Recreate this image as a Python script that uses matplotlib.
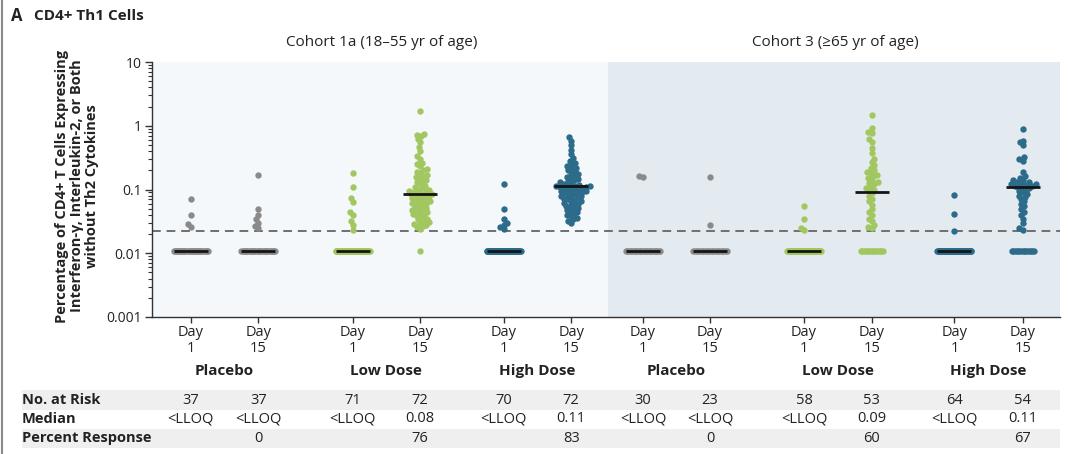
import numpy as np
import matplotlib
matplotlib.use('Agg')
import matplotlib.pyplot as plt
from matplotlib.ticker import LogLocator, FixedLocator, NullFormatter
from matplotlib.transforms import blended_transform_factory
from matplotlib.patches import Rectangle
from matplotlib.lines import Line2D

plt.rcParams['font.family'] = ['Open Sans', 'DejaVu Sans']

W, H = 1069, 454

# --- data ---
cohorts = ['Cohort 1a (18–55 yr of age)', 'Cohort 3 (≥65 yr of age)']
groups = ['Placebo', 'Low Dose', 'High Dose']
day_labels = ['Day\n1', 'Day\n15'] * 6
xpos = [0, 1, 2.39, 3.39, 4.62, 5.62, 6.68, 7.67, 9.06, 10.06, 11.28, 12.29]

lloq = 0.022
floor_val = 0.011   # values below LLOQ are plotted here

# values above the LLOQ in each column
c1_pla_d1 = [0.07, 0.04, 0.029, 0.026]
c1_pla_d15 = [0.17, 0.05, 0.04, 0.034, 0.03, 0.027, 0.025]
c1_low_d1 = [0.18, 0.11, 0.073, 0.064, 0.045, 0.04, 0.032, 0.028, 0.023]
c1_low_d15 = [1.7, 0.75, 0.72, 0.68, 0.62, 0.55, 0.46, 0.4, 0.33, 0.3, 0.26, 0.25,
              0.23, 0.21, 0.2, 0.19, 0.18, 0.17, 0.16, 0.155, 0.15, 0.14, 0.135, 0.13,
              0.12, 0.115, 0.11, 0.105, 0.1, 0.097, 0.094, 0.092, 0.09, 0.088, 0.086,
              0.084, 0.082, 0.08, 0.078, 0.075, 0.073, 0.071, 0.069, 0.067, 0.065, 0.063,
              0.061, 0.06, 0.058, 0.056, 0.054, 0.052, 0.05, 0.048, 0.047, 0.045, 0.044,
              0.042, 0.04, 0.039, 0.037, 0.035, 0.034, 0.032, 0.031, 0.03, 0.029, 0.028,
              0.027, 0.026, 0.024]
c1_high_d1 = [0.12, 0.05, 0.035, 0.03, 0.028, 0.026, 0.024]
c1_high_d15 = [0.66, 0.58, 0.5, 0.42, 0.36, 0.31, 0.28, 0.26, 0.245, 0.23, 0.22, 0.21,
               0.2, 0.19, 0.18, 0.172, 0.165, 0.158, 0.152, 0.146, 0.14, 0.135, 0.13, 0.126,
               0.122, 0.119, 0.116, 0.114, 0.113, 0.112, 0.111, 0.11, 0.108, 0.106, 0.104, 0.102,
               0.1, 0.098, 0.096, 0.094, 0.092, 0.09, 0.088, 0.086, 0.084, 0.082, 0.08, 0.078,
               0.076, 0.074, 0.072, 0.07, 0.068, 0.066, 0.064, 0.062, 0.06, 0.058, 0.056, 0.054,
               0.052, 0.05, 0.048, 0.046, 0.044, 0.042, 0.04, 0.038, 0.036, 0.034, 0.032, 0.03]
c3_pla_d1 = [0.163, 0.155]
c3_pla_d15 = [0.158, 0.028]
c3_low_d1 = [0.055, 0.035, 0.025, 0.023]
c3_low_d15 = [1.47, 0.91, 0.8, 0.76, 0.62, 0.56, 0.45, 0.37, 0.3, 0.27, 0.24, 0.22,
              0.2, 0.19, 0.18, 0.17, 0.16, 0.15, 0.14, 0.13, 0.125, 0.12, 0.11, 0.105,
              0.1, 0.095, 0.088, 0.08, 0.072, 0.065, 0.058, 0.05, 0.045, 0.04, 0.035,
              0.032, 0.028, 0.026, 0.025]
c3_high_d1 = [0.081, 0.041, 0.0224]
c3_high_d15 = [0.88, 0.58, 0.55, 0.5, 0.32, 0.3, 0.28, 0.19, 0.16, 0.15, 0.14, 0.14,
               0.13, 0.13, 0.125, 0.12, 0.12, 0.118, 0.115, 0.112, 0.11, 0.11,
               0.105, 0.1, 0.095, 0.09, 0.085, 0.08, 0.075, 0.07, 0.065, 0.06, 0.055,
               0.05, 0.045, 0.04, 0.035, 0.03, 0.025, 0.023]

above = [c1_pla_d1, c1_pla_d15, c1_low_d1, c1_low_d15, c1_high_d1, c1_high_d15,
         c3_pla_d1, c3_pla_d15, c3_low_d1, c3_low_d15, c3_high_d1, c3_high_d15]
at_risk = [37, 37, 71, 72, 70, 72, 30, 23, 58, 53, 64, 54]
median_line = [0.011, 0.011, 0.011, 0.085, 0.011, 0.113,
               0.011, 0.011, 0.011, 0.09, 0.011, 0.108]
median_txt = ['<LLOQ', '<LLOQ', '<LLOQ', '0.08', '<LLOQ', '0.11',
              '<LLOQ', '<LLOQ', '<LLOQ', '0.09', '<LLOQ', '0.11']
response_txt = ['', '0', '', '76', '', '83', '', '0', '', '60', '', '67']

gray = '#8a8a8a'
green = '#a2c760'
teal = '#2d6b8b'
col_colors = [gray, gray, green, green, teal, teal] * 2
bg_left = '#f4f8fa'
bg_right = '#e3ebf1'


def swarm(ypix, d):
    # simple beeswarm: put each point as close to the centre as possible
    order = np.argsort(ypix)
    xs = np.zeros(len(ypix))
    placed = []
    for i in order:
        y = ypix[i]
        blocks = []
        for px, py in placed:
            dy = abs(py - y)
            if dy < d:
                dx = np.sqrt(d * d - dy * dy)
                blocks.append((px - dx, px + dx))
        cands = [0.0] + [b[0] for b in blocks] + [b[1] for b in blocks]
        cands.sort(key=abs)
        for c in cands:
            if all(not (lo + 1e-6 < c < hi - 1e-6) for lo, hi in blocks):
                xs[i] = c
                break
        placed.append((xs[i], y))
    return xs


fig = plt.figure(figsize=(W / 100, H / 100), dpi=100)
ax = fig.add_axes([152 / W, (H - 317) / H, 908 / W, 255 / H])
ax.set_yscale('log')
ax.set_ylim(0.001, 10)
ax.set_xlim(-0.572, 12.84)
ax.set_facecolor(bg_left)
ax.axvspan(6.16, 12.84, color=bg_right, zorder=0, lw=0)

for s in ['top', 'right']:
    ax.spines[s].set_visible(False)
for s in ['left', 'bottom']:
    ax.spines[s].set_color('#333333')
    ax.spines[s].set_linewidth(1.0)

ax.axhline(lloq, color='#6f6f6f', ls=(0, (4.5, 3)), lw=1.4, zorder=2)

fig.canvas.draw()
x0_pix = ax.transData.transform((0, 1))[0]
x1_pix = ax.transData.transform((1, 1))[0]
pxu = x1_pix - x0_pix   # pixels per x unit

for i, vals in enumerate(above):
    n_floor = at_risk[i] - len(vals)
    vals = np.array(vals, dtype=float)
    ypix = ax.transData.transform(np.column_stack([np.zeros(len(vals)), vals]))[:, 1]
    offs = swarm(ypix, 4.0)
    xs = xpos[i] + offs / pxu
    ax.scatter(xs, vals, s=21, color=col_colors[i], linewidths=0, zorder=3)
    if n_floor > 0:
        w = min(34.0, 1.6 * n_floor)
        fo = np.linspace(-w / 2, w / 2, n_floor) if n_floor > 1 else np.zeros(1)
        ax.scatter(xpos[i] + fo / pxu, np.full(n_floor, floor_val), s=21,
                   color=col_colors[i], linewidths=0, zorder=3)
    half = 17 / pxu
    if median_line[i] != floor_val or n_floor > 20:
        ax.plot([xpos[i] - half, xpos[i] + half], [median_line[i]] * 2,
                color='#151515', lw=2.0, zorder=4, solid_capstyle='butt')

ax.yaxis.set_major_locator(FixedLocator([0.001, 0.01, 0.1, 1, 10]))
ax.set_yticklabels(['0.001', '0.01', '0.1', '1', '10'])
ax.yaxis.set_minor_locator(LogLocator(base=10, subs=np.arange(2, 10)))
ax.yaxis.set_minor_formatter(NullFormatter())
ax.tick_params(axis='y', which='major', length=5, width=1, labelsize=10, pad=2,
               color='#333333', labelcolor='#222222')
ax.tick_params(axis='y', which='minor', length=3, width=0.8, color='#333333')

ax.set_xticks(xpos)
ax.set_xticklabels(day_labels, linespacing=1.1)
ax.tick_params(axis='x', length=4, width=1, labelsize=10.5, pad=2,
               color='#333333', labelcolor='#222222')

# y label
fig.text(77 / W, 1 - 186 / H,
         'Percentage of CD4+ T Cells Expressing\nInterferon-γ, Interleukin-2, or Both\nwithout Th2 Cytokines',
         rotation=90, ha='center', va='center', multialignment='center',
         fontsize=10.5, fontweight='bold', color='#222222', linespacing=1.1)

# panel title and cohort titles
fig.text(11 / W, 1 - 16 / H, 'A', fontsize=12, fontweight='bold', va='center', color='#222222')
fig.text(34 / W, 1 - 16 / H, 'CD4+ Th1 Cells', fontsize=11, fontweight='bold',
         va='center', color='#222222')
fig.text(382 / W, 1 - 42 / H, cohorts[0], fontsize=11, ha='center', va='center', color='#222222')
fig.text(835 / W, 1 - 42 / H, cohorts[1], fontsize=11, ha='center', va='center', color='#222222')

tr = blended_transform_factory(ax.transData, fig.transFigure)
for k in range(6):
    xm = (xpos[2 * k] + xpos[2 * k + 1]) / 2
    fig.text(xm, 1 - 371 / H, groups[k % 3], transform=tr, ha='center', va='center',
             fontsize=11, fontweight='bold', color='#222222')

# table under the chart
for yb0, yb1 in [(390, 410), (429, 448)]:
    fig.patches.append(Rectangle((22 / W, 1 - yb1 / H), (1060 - 22) / W, (yb1 - yb0) / H,
                                 transform=fig.transFigure, color='#efefef', lw=0, zorder=0))
rows = [('No. at Risk', [str(n) for n in at_risk], 400),
        ('Median', median_txt, 419),
        ('Percent Response', response_txt, 438)]
for label, cells, yy in rows:
    fig.text(22 / W, 1 - yy / H, label, fontsize=10.5, fontweight='bold', va='center', color='#222222')
    for i, c in enumerate(cells):
        if c:
            fig.text(xpos[i], 1 - yy / H, c, transform=tr, ha='center', va='center',
                     fontsize=10.5, color='#222222')

fig.lines.append(Line2D([2 / W, 2 / W], [0, 1], transform=fig.transFigure,
                        color='#8a8a8a', lw=1.5))

fig.savefig('out.png', dpi=100)
